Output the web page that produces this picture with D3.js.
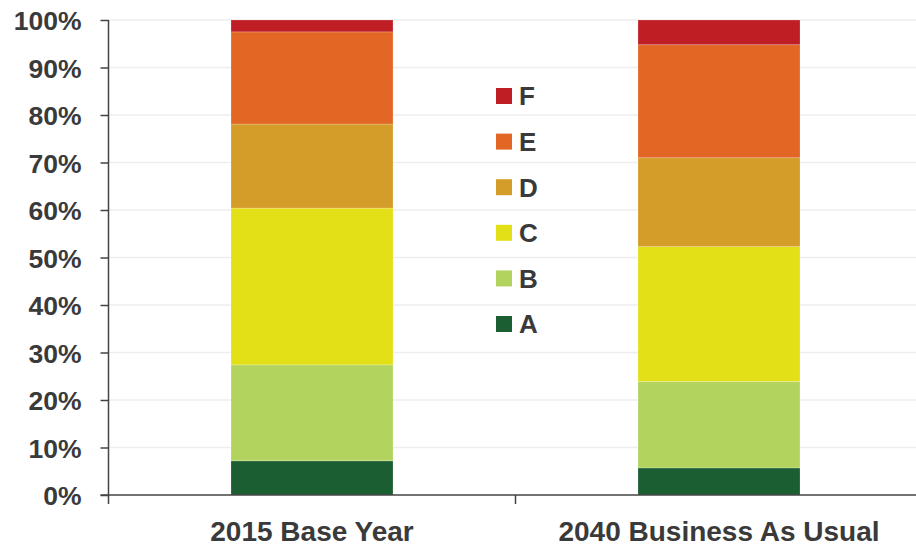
<!DOCTYPE html>
<html><head><meta charset="utf-8">
<script src="https://cdn.jsdelivr.net/npm/d3@7/dist/d3.min.js"></script>
<style>body{margin:0;background:#fff}svg{display:block}</style>
</head><body><svg id="c" width="916" height="547"></svg>
<script>
const categories = ["2015 Base Year", "2040 Business As Usual"];
const seriesNames = ["A", "B", "C", "D", "E", "F"];
const seriesColors = ["#1A5E32", "#B2D45E", "#E3E017", "#D49D2A", "#E36724", "#BE1E24"];
const valuesA = [7.2, 5.7];
const valuesB = [20.2, 18.2];
const valuesC = [33.0, 28.4];
const valuesD = [17.7, 18.7];
const valuesE = [19.4, 23.8];
const valuesF = [2.5, 5.2];
const yTicks = [0, 10, 20, 30, 40, 50, 60, 70, 80, 90, 100];

(function () {
const allVals = [valuesA, valuesB, valuesC, valuesD, valuesE, valuesF];
const rows = categories.map((c, i) => {
  const r = {cat: c};
  seriesNames.forEach((s, j) => r[s] = allVals[j][i]);
  return r;
});
const stacked = d3.stack().keys(seriesNames)(rows);

const svg = d3.select("#c");
const font = "'Liberation Sans', Arial, sans-serif";
const textColor = "#3a3a3a";
const mLeft = 108.5, mRight = 922.5, mTop = 20, mBottom = 495;
const x = d3.scaleBand().domain(categories).range([mLeft, mRight]).paddingInner(0).paddingOuter(0);
const y = d3.scaleLinear().domain([0, 100]).range([mBottom, mTop]);
const barW = 162;

// gridlines
svg.append("g").selectAll("line").data(yTicks.filter(t => t > 0)).join("line")
  .attr("x1", mLeft).attr("x2", 916).attr("y1", d => y(d)).attr("y2", d => y(d))
  .attr("stroke", "#eeeeee").attr("stroke-width", 1.5);

// bars
svg.append("g").selectAll("g").data(stacked).join("g")
  .attr("fill", (d, i) => seriesColors[i])
  .selectAll("rect").data(d => d).join("rect")
  .attr("x", d => x(d.data.cat) + x.bandwidth() / 2 - barW / 2)
  .attr("width", barW)
  .attr("y", d => y(d[1]))
  .attr("height", d => y(d[0]) - y(d[1]))
  .attr("stroke", "rgba(255,255,255,0.25)").attr("stroke-width", 0.8);

// y axis
const yAxis = svg.append("g").attr("transform", `translate(${mLeft},0)`)
  .call(d3.axisLeft(y).tickValues(yTicks).tickFormat(d => d + "%").tickSize(8).tickPadding(19));
yAxis.select(".domain").remove();
yAxis.append("line").attr("x1", 0).attr("x2", 0).attr("y1", mTop).attr("y2", mBottom + 9)
  .attr("stroke", "#444").attr("stroke-width", 1.5);
yAxis.selectAll(".tick line").attr("stroke", "#444").attr("stroke-width", 1.5);
yAxis.selectAll(".tick text").attr("fill", textColor).attr("font-family", font)
  .attr("font-size", 26.5).attr("font-weight", "bold").attr("dy", "0.36em");

// x axis
const xAxis = svg.append("g").attr("transform", `translate(0,${mBottom})`);
xAxis.append("line").attr("x1", mLeft - 8).attr("x2", 916).attr("y1", 0).attr("y2", 0)
  .attr("stroke", "#444").attr("stroke-width", 1.5);
const bounds = [x(categories[1]), mRight];
xAxis.selectAll("line.tk").data(bounds).join("line").attr("class", "tk")
  .attr("x1", d => d).attr("x2", d => d).attr("y1", 0).attr("y2", 9)
  .attr("stroke", "#444").attr("stroke-width", 1.5);
xAxis.selectAll("text").data(categories).join("text")
  .attr("x", d => x(d) + x.bandwidth() / 2).attr("y", 45.5)
  .attr("text-anchor", "middle").attr("fill", textColor).attr("font-family", font)
  .attr("font-size", 28).attr("font-weight", "bold").text(d => d);

// legend
const legendNames = seriesNames.slice().reverse();
const legendColors = seriesColors.slice().reverse();
const lg = svg.append("g").selectAll("g").data(legendNames).join("g")
  .attr("transform", (d, i) => `translate(496,${96 + i * 45.6})`);
lg.append("rect").attr("x", 0).attr("y", -8).attr("width", 16).attr("height", 16)
  .attr("fill", (d, i) => legendColors[i]);
lg.append("text").attr("x", 23).attr("y", 0).attr("dy", "0.36em")
  .attr("fill", textColor).attr("font-family", font).attr("font-size", 26)
  .attr("font-weight", "bold").text(d => d);
})();
</script></body></html>
